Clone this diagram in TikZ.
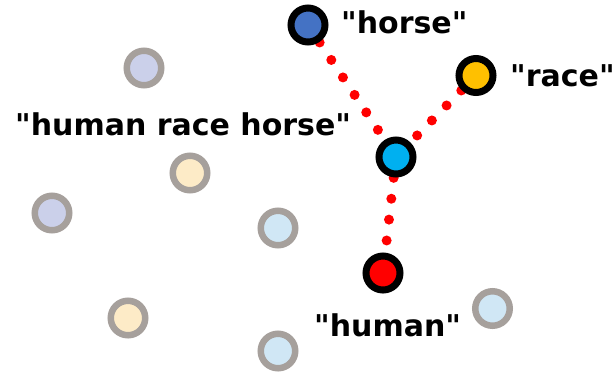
\documentclass[tikz,border=0pt]{standalone}
\usepackage{fontspec}
\setmainfont{DejaVu Sans}[Ligatures=TeXOff]
\begin{document}
\begin{tikzpicture}[x=1pt,y=-1pt,
  word/.style={inner sep=0pt,anchor=base west,font=\fontsize{30}{35}\selectfont\bfseries},
  key/.style={circle,draw=black,line width=7pt,minimum size=34pt,inner sep=0pt},
  other/.style={circle,draw=ringgray,line width=6.5pt,minimum size=34.5pt,inner sep=0pt},
  link/.style={draw=red,line width=10pt,line cap=round,dash pattern=on 0pt off 21pt}]
\definecolor{ringgray}{HTML}{A6A09C}
\definecolor{lav}{HTML}{CBD0EA}
\definecolor{cream}{HTML}{FDEBC7}
\definecolor{lblue}{HTML}{D0E7F5}
\definecolor{hblue}{HTML}{4472C4}
\definecolor{rgold}{HTML}{FFC000}
\definecolor{ccyan}{HTML}{00B0F0}
\useasboundingbox (0,0) rectangle (616,376);
\coordinate (h) at (308,25);
\coordinate (r) at (476,75.5);
\coordinate (c) at (396,157);
\coordinate (m) at (383,273);
\path[link] (h) -- (c);
\path[link] (r) -- (c);
\path[link] (c) -- (m);
\node[key,fill=hblue] (horse) at (h) {};
\node[key,fill=rgold] (race) at (r) {};
\node[key,fill=ccyan] (center) at (c) {};
\node[key,fill=red] (human) at (m) {};
\node[other,fill=lav] (g1) at (144,68) {};
\node[other,fill=cream] (g2) at (190,173) {};
\node[other,fill=lav] (g3) at (52,213) {};
\node[other,fill=lblue] (g4) at (278,228) {};
\node[other,fill=cream] (g5) at (128,318) {};
\node[other,fill=lblue] (g6) at (278,351) {};
\node[other,fill=lblue] (g7) at (492.5,308.5) {};
\node[word] (lh) at (341,33) {"horse"};
\node[word] (lr) at (510,86) {"race"};
\node[word] (lhrh) at (15,135) {"human race horse"};
\node[word] (lm) at (314,336) {"human"};
\end{tikzpicture}
\end{document}
